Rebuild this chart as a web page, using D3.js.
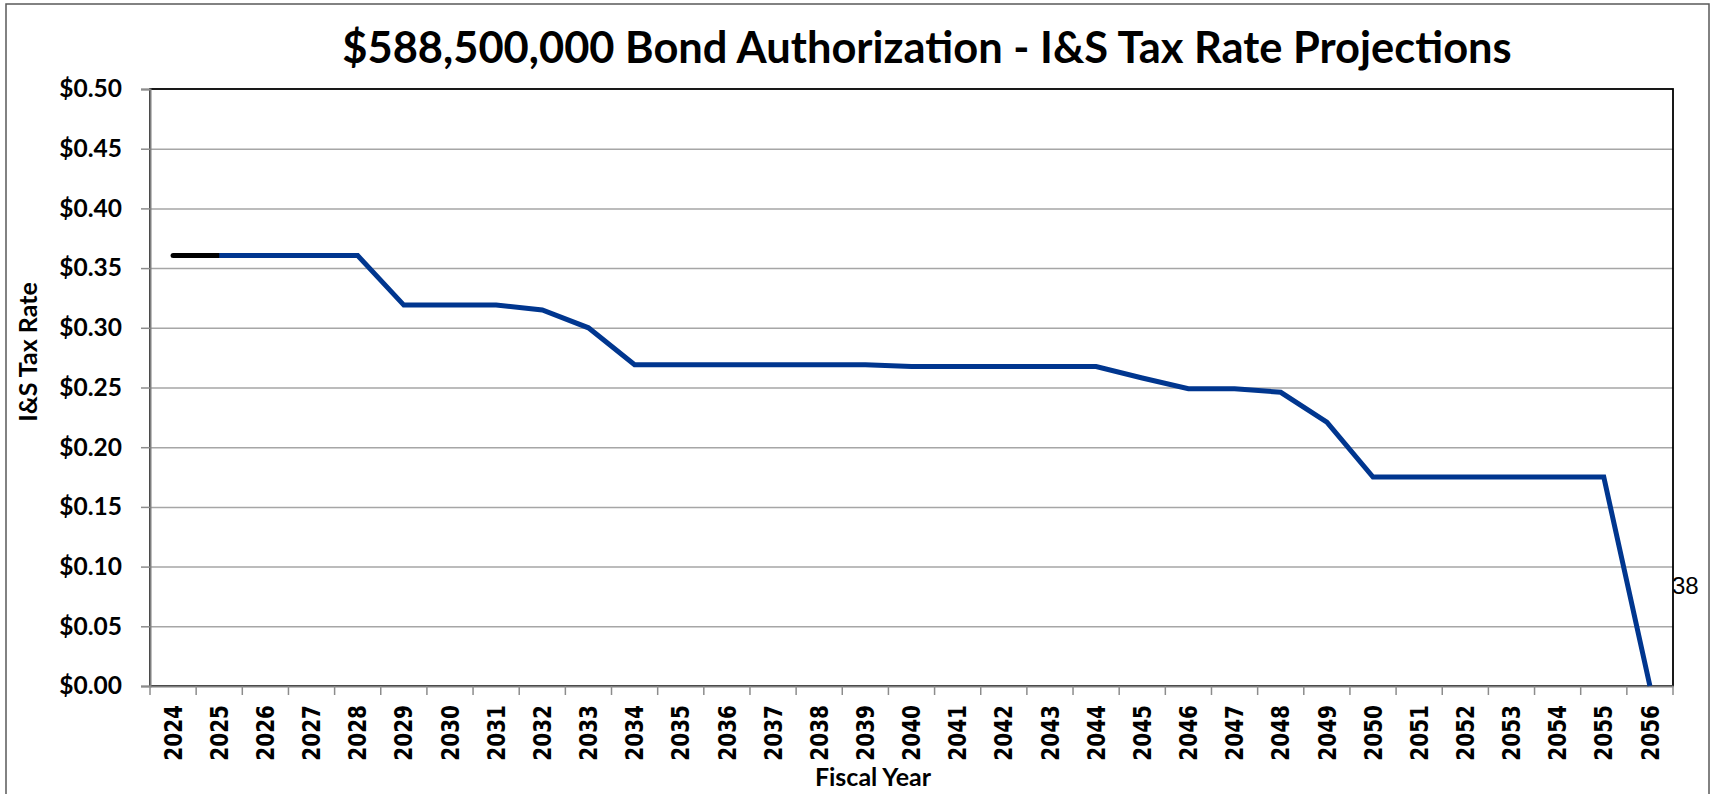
<!DOCTYPE html>
<html>
<head>
<meta charset="utf-8">
<script src="https://cdn.jsdelivr.net/npm/d3@7"></script>
<style>
	body { margin: 0; background: #fff; }
	svg { display: block; }
</style>
</head>
<body>
<div id="chart-area"></div>
<script>
// Chart values
var years = ["2024", "2025", "2026", "2027", "2028", "2029", "2030", "2031", "2032", "2033", "2034",
	"2035", "2036", "2037", "2038", "2039", "2040", "2041", "2042", "2043", "2044", "2045",
	"2046", "2047", "2048", "2049", "2050", "2051", "2052", "2053", "2054", "2055", "2056"];

var rates = [0.3605, 0.3605, 0.3605, 0.3605, 0.3605, 0.319, 0.319, 0.319, 0.315, 0.300, 0.269,
	0.269, 0.269, 0.269, 0.269, 0.269, 0.2675, 0.2675, 0.2675, 0.2675, 0.2675, 0.258,
	0.249, 0.249, 0.246, 0.221, 0.175, 0.175, 0.175, 0.175, 0.175, 0.175, 0.000];

// first segment (current year) is drawn black, projection in blue
var actualYears = ["2024", "2025"];

var yTicks = [0, 0.05, 0.10, 0.15, 0.20, 0.25, 0.30, 0.35, 0.40, 0.45, 0.50];

var titleText = "$588,500,000 Bond Authorization - I&S Tax Rate Projections";
var pageNumber = "38";

var W = 1715, H = 794;
var margin = { top: 89, right: 42, bottom: 108, left: 150 };
var width = W - margin.left - margin.right,
	height = H - margin.top - margin.bottom;

var calibriLike = "Lato, 'Open Sans', sans-serif";

var svg = d3.select("#chart-area")
	.append("svg")
		.attr("width", W)
		.attr("height", H);

// outer frame of the slide chart object
svg.append("rect")
	.attr("x", 6)
	.attr("y", 4)
	.attr("width", 1703)
	.attr("height", 820)
	.attr("fill", "none")
	.attr("stroke", "#595959")
	.attr("stroke-width", 1.5);

var g = svg.append("g")
	.attr("transform", `translate(${margin.left},${margin.top})`);

// Scales
var x = d3.scaleBand()
	.domain(years)
	.range([0, width])
	.padding(0);

var y = d3.scaleLinear()
	.domain([0, 0.5])
	.range([height, 0]);

// Gridlines
var grid = g.append("g")
	.attr("class", "grid")
	.call(d3.axisLeft(y).tickValues(yTicks.slice(1, -1)).tickSize(-width).tickFormat(""));
grid.select(".domain").remove();
grid.selectAll("line")
	.attr("stroke", "#a6a6a6")
	.attr("stroke-width", 1.5);

// page number sits just right of the plot border
svg.append("text")
	.attr("x", margin.left + width - 1)
	.attr("y", 594)
	.attr("font-family", "'Liberation Sans', Arial, sans-serif")
	.attr("font-size", 24)
	.attr("fill", "#000")
	.text(pageNumber);

// plot area border
g.append("rect")
	.attr("width", width)
	.attr("height", height)
	.attr("fill", "none")
	.attr("stroke", "#000")
	.attr("stroke-width", 1.8);

// Y axis
var yAxisCall = d3.axisLeft(y)
	.tickValues(yTicks)
	.tickFormat(d3.format("$.2f"))
	.tickSize(9)
	.tickPadding(19);

var yAxis = g.append("g")
	.attr("class", "left axis")
	.call(yAxisCall);
yAxis.select(".domain")
	.attr("stroke", "#7f7f7f")
	.attr("stroke-width", 2);
yAxis.selectAll(".tick line")
	.attr("stroke", "#8c8c8c")
	.attr("stroke-width", 1.5);
yAxis.selectAll("text")
	.attr("font-family", calibriLike)
	.attr("font-weight", "bold")
	.attr("font-size", 24.5)
	.attr("fill", "#000");

// X axis - labels at band centres, tick marks on band edges
var xAxisCall = d3.axisBottom(x)
	.tickSize(0)
	.tickSizeOuter(0);

var xAxis = g.append("g")
	.attr("class", "bottom axis")
	.attr("transform", `translate(0,${height})`)
	.call(xAxisCall);
xAxis.select(".domain")
	.attr("stroke", "#7f7f7f")
	.attr("stroke-width", 2);
xAxis.selectAll("text")
	.attr("font-family", "'DejaVu Sans', Verdana, sans-serif")
	.attr("font-weight", "bold")
	.attr("font-size", 20)
	.attr("fill", "#000")
	.attr("text-anchor", "end")
	.attr("transform", "translate(0,19) rotate(-90) scale(1,1.2)")
	.attr("x", 0)
	.attr("y", 0)
	.attr("dy", "0.36em");

xAxis.selectAll(".edge")
	.data(years.concat(["end"]))
	.enter()
	.append("line")
		.attr("class", "edge")
		.attr("x1", (d, i) => i < years.length ? x(d) : width)
		.attr("x2", (d, i) => i < years.length ? x(d) : width)
		.attr("y1", 0)
		.attr("y2", 9)
		.attr("stroke", "#8c8c8c")
		.attr("stroke-width", 1.5);

// Lines
var points = years.map((d, i) => ({ year: d, rate: rates[i] }));

var line = d3.line()
	.x((d) => x(d.year) + x.bandwidth() / 2)
	.y((d) => y(d.rate));

var actual = points.filter((d) => actualYears.indexOf(d.year) >= 0);
var projected = points.filter((d) => d.year >= actualYears[actualYears.length - 1]);

g.append("path")
	.datum(actual)
	.attr("d", line)
	.attr("fill", "none")
	.attr("stroke", "#000")
	.attr("stroke-width", 5)
	.attr("stroke-linecap", "round");

g.append("path")
	.datum(projected)
	.attr("d", line)
	.attr("fill", "none")
	.attr("stroke", "#00368f")
	.attr("stroke-width", 5)
	.attr("stroke-linejoin", "miter")
	.attr("stroke-linecap", "butt");

// Title, sized to span the same width as the original
var title = svg.append("text")
	.attr("x", 927)
	.attr("y", 63)
	.attr("text-anchor", "middle")
	.attr("font-family", calibriLike)
	.attr("font-weight", "bold")
	.attr("font-size", 44)
	.attr("fill", "#000")
	.text(titleText);
var tw = title.node().getComputedTextLength();
title.attr("font-size", 44 * 1170 / tw);

// Axis titles
svg.append("text")
	.attr("transform", "translate(37,352) rotate(-90)")
	.attr("text-anchor", "middle")
	.attr("font-family", calibriLike)
	.attr("font-weight", "bold")
	.attr("font-size", 25)
	.attr("fill", "#000")
	.text("I&S Tax Rate");

svg.append("text")
	.attr("x", 873)
	.attr("y", 786)
	.attr("text-anchor", "middle")
	.attr("font-family", calibriLike)
	.attr("font-weight", "bold")
	.attr("font-size", 25)
	.attr("fill", "#000")
	.text("Fiscal Year");
</script>
</body>
</html>
